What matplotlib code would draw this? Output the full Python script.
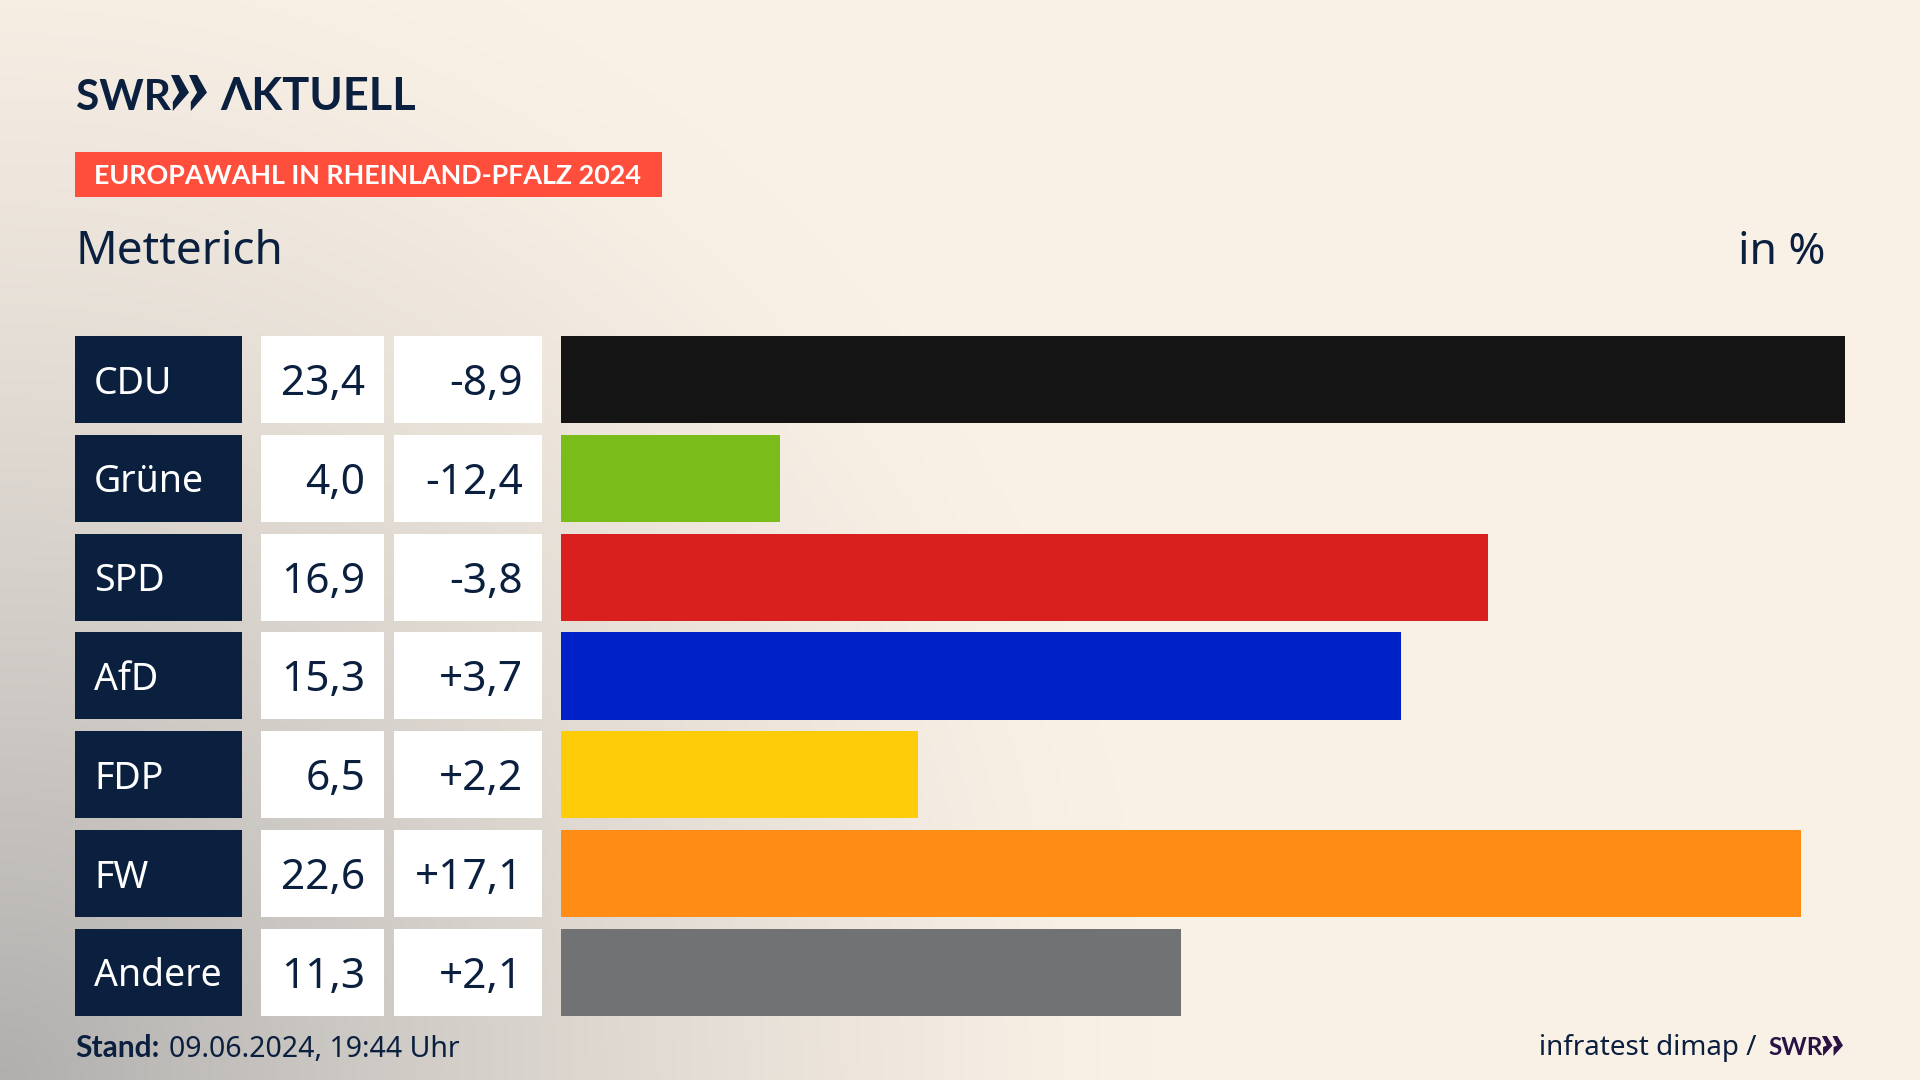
import numpy as np
import matplotlib
matplotlib.use("Agg")
import matplotlib.pyplot as plt
from matplotlib.patches import Rectangle, Polygon

parties = ["CDU", "Grüne", "SPD", "AfD", "FDP", "FW", "Andere"]
values = [23.4, 4.0, 16.9, 15.3, 6.5, 22.6, 11.3]
changes = ["-8,9", "-12,4", "-3,8", "+3,7", "+2,2", "+17,1", "+2,1"]
colors = ["#141414", "#7ABD1A", "#D9201E", "#0021C7", "#FFCC0A", "#FF8C14", "#717274"]

navy = "#0B1F3F"
font = "Noto Sans"
bold = ["Lato", "Liberation Sans"]

fig = plt.figure(figsize=(19.2, 10.8), dpi=100)
ax = fig.add_axes([0, 0, 1, 1])
ax.set_xlim(0, 1920)
ax.set_ylim(1080, 0)
ax.axis("off")

# background, grey glow from the bottom left corner
xx, yy = np.meshgrid(np.arange(0, 1920, 4), np.arange(0, 1080, 4))
t = np.clip(1 - np.sqrt((xx / 1150) ** 2 + ((1080 - yy) / 1200) ** 2), 0, 1) ** 1.3
cream = np.array([250, 241, 230]) / 255
grey = np.array([176, 175, 174]) / 255
bg = cream + (grey - cream) * t[..., None]
ax.imshow(bg, extent=(0, 1920, 1080, 0), aspect="auto", zorder=0)


def chevrons(x, top, bottom, w, color):
    mid = (top + bottom) / 2
    for k in range(2):
        x0 = x + k * w
        ax.add_patch(Polygon([(x0, top), (x0 + w * 0.45, top), (x0 + w, mid),
                              (x0 + w * 0.1, bottom + 1), (x0 + w * 0.1, bottom - 8),
                              (x0 + w * 0.45, mid)],
                             closed=True, fc=color, ec="none", zorder=3))


# header
ax.text(76, 110, "SWR", fontsize=30.5, fontweight="bold", family=bold, color=navy)
chevrons(171, 75, 110, 18, navy)
ax.text(220, 110, "ΛKTUELL", fontsize=32.5, fontweight="bold", family=bold, color=navy)

ax.add_patch(Rectangle((75, 152), 587, 45, fc="#FF4F3C", ec="none", zorder=2))
ax.text(94, 184, "EUROPAWAHL IN RHEINLAND-PFALZ 2024", fontsize=19.35, fontweight="bold",
        family=bold, color="white", zorder=3)
ax.text(76, 264, "Metterich", fontsize=33, family=font, color=navy)
ax.text(1825, 264, "in %", fontsize=32, family=font, color=navy, ha="right")

# table cells
row_top = 336
pitch = 98.83
row_h = 87
for i, party in enumerate(parties):
    top = row_top + i * pitch
    base = top + 59
    ax.add_patch(Rectangle((75, top), 167, row_h, fc=navy, ec="none", zorder=2))
    ax.add_patch(Rectangle((261, top), 123, row_h, fc="white", ec="none", zorder=2))
    ax.add_patch(Rectangle((394, top), 148, row_h, fc="white", ec="none", zorder=2))
    ax.text(94, base - 1.5, party, fontsize=27, family=font, color="white", zorder=3)
    ax.text(365, base, f"{values[i]:.1f}".replace(".", ","), fontsize=30.5, family=font,
            color=navy, ha="right", zorder=3)
    ax.text(523, base, changes[i], fontsize=30.5, family=font, color=navy, ha="right", zorder=3)

# bars
ax_bar = fig.add_axes([561 / 1920, 1 - 1016 / 1080, 1284 / 1920, 680 / 1080])
ax_bar.patch.set_alpha(0)
ax_bar.barh(range(len(parties)), values, height=row_h / pitch, color=colors)
half = row_h / pitch / 2
ax_bar.set_xlim(0, max(values))
ax_bar.set_ylim(len(parties) - 1 + half, -half)
ax_bar.axis("off")

# footer
ax.text(75, 1057, "Stand:", fontsize=21.5, fontweight="bold", family=bold, color=navy)
ax.text(169, 1057, "09.06.2024, 19:44 Uhr", fontsize=20.5, family=font, color=navy)
ax.text(1539, 1055, "infratest dimap /", fontsize=20, family=font, color=navy)
ax.text(1768, 1055, "SWR", fontsize=17.5, fontweight="bold", family=bold, color="#2A1245")
chevrons(1822, 1036, 1055, 10.5, "#2A1245")

fig.savefig("out.png", dpi=100)
